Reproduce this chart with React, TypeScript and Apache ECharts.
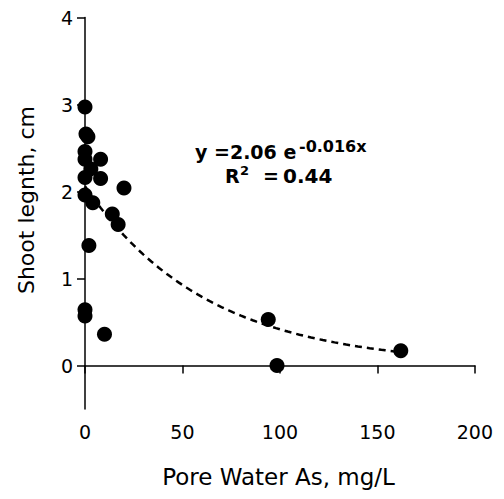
import React, { useEffect, useRef } from "react";
import * as echarts from "echarts";

const xValues = [0, 0.5, 1.5, 0, 0, 8, 8, 0, 3, 20, 0, 4, 14, 17, 2, 0, 0, 10, 94, 98.5, 162];
const yValues = [2.97, 2.66, 2.63, 2.46, 2.37, 2.37, 2.15, 2.16, 2.26, 2.04, 1.96, 1.87, 1.74, 1.62, 1.38, 0.64, 0.57, 0.36, 0.53, 0.0, 0.17];
const fitA = 2.06;
const fitB = -0.016;
const fitXRange = [0, 162];
const yTicks = [0, 1, 2, 3, 4];

export default function App() {
  const ref = useRef<HTMLDivElement>(null);
  useEffect(() => {
    if (!ref.current) return;
    const chart = echarts.init(ref.current, undefined, { renderer: "svg" });
    const points = xValues.map((x, i) => [x, yValues[i]]);
    const fit: number[][] = [];
    for (let x = fitXRange[0]; x <= fitXRange[1]; x += 2) fit.push([x, fitA * Math.exp(fitB * x)]);
    const font = "'DejaVu Sans', Verdana, sans-serif";
    const bold = { fontWeight: "bold", fill: "#000", fontFamily: font };
    chart.setOption({
      animation: false,
      grid: { left: 77, right: 17, top: 7, bottom: 82 },
      xAxis: {
        type: "value",
        min: 0,
        max: 200,
        interval: 50,
        axisLine: { show: true, lineStyle: { color: "#000", width: 1.5 } },
        axisTick: { show: true, length: 8, lineStyle: { color: "#000", width: 1.5 } },
        axisLabel: { fontSize: 19, color: "#000", fontFamily: font, margin: 13 },
        splitLine: { show: false },
      },
      yAxis: {
        type: "value",
        min: -0.5,
        max: 4,
        axisLine: { show: true, onZero: false, lineStyle: { color: "#000", width: 1.5 } },
        axisTick: { show: true, length: 8, customValues: yTicks, lineStyle: { color: "#000", width: 1.5 } },
        axisLabel: { fontSize: 19, color: "#000", fontFamily: font, margin: 12, customValues: yTicks },
        splitLine: { show: false },
      },
      graphic: [
        {
          type: "text",
          x: 270.5,
          y: 469,
          style: {
            text: "Pore Water As, mg/L",
            fontSize: 23,
            fill: "#000",
            fontFamily: font,
            textAlign: "center",
            textVerticalAlign: "middle",
          },
        },
        {
          type: "text",
          x: 18,
          y: 192,
          rotation: Math.PI / 2,
          style: {
            text: "Shoot legnth, cm",
            fontSize: 22,
            fill: "#000",
            fontFamily: font,
            textAlign: "center",
            textVerticalAlign: "middle",
          },
        },
        {
          type: "text",
          x: 187,
          y: 144,
          style: { ...bold, text: "y =2.06 e", fontSize: 19, lineHeight: 19, textVerticalAlign: "middle" },
        },
        {
          type: "text",
          x: 291,
          y: 138,
          style: { ...bold, text: "-0.016x", fontSize: 16, lineHeight: 16, textVerticalAlign: "middle" },
        },
        {
          type: "text",
          x: 217,
          y: 168,
          style: { ...bold, text: "R", fontSize: 19, lineHeight: 19, textVerticalAlign: "middle" },
        },
        {
          type: "text",
          x: 232,
          y: 162,
          style: { ...bold, text: "2", fontSize: 13, lineHeight: 12, textVerticalAlign: "middle" },
        },
        {
          type: "text",
          x: 255,
          y: 168,
          style: { ...bold, text: "=", fontSize: 19, lineHeight: 19, textVerticalAlign: "middle" },
        },
        {
          type: "text",
          x: 275,
          y: 168,
          style: { ...bold, text: "0.44", fontSize: 20, lineHeight: 20, textVerticalAlign: "middle" },
        },
      ],
      series: [
        {
          type: "line",
          data: fit,
          showSymbol: false,
          smooth: false,
          lineStyle: { color: "#000", width: 2.5, type: [7, 5] },
          z: 1,
        },
        {
          type: "scatter",
          data: points,
          symbol: "circle",
          symbolSize: 15,
          itemStyle: { color: "#000", opacity: 1 },
          z: 2,
        },
      ],
    });
    return () => chart.dispose();
  }, []);
  return <div ref={ref} style={{ width: 488, height: 483 }} />;
}
